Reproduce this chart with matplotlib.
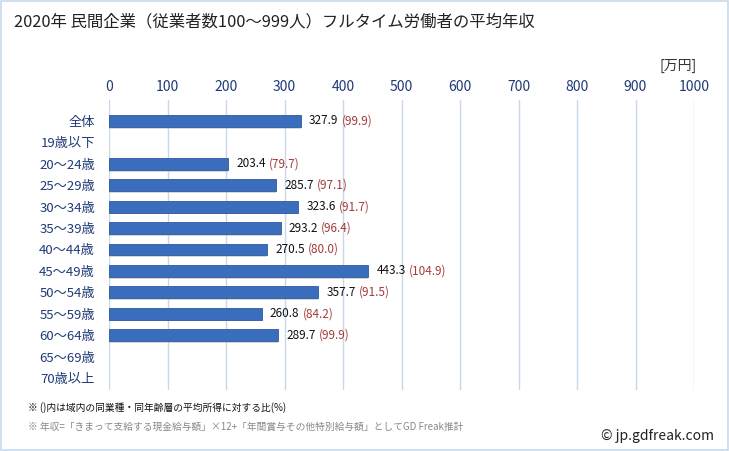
import numpy as np
import matplotlib.pyplot as plt
from matplotlib.patches import Rectangle

plt.rcParams['font.family'] = ['Noto Sans CJK JP', 'DejaVu Sans']

categories = ['全体', '19歳以下', '20～24歳', '25～29歳', '30～34歳', '35～39歳',
              '40～44歳', '45～49歳', '50～54歳', '55～59歳', '60～64歳',
              '65～69歳', '70歳以上']
salary = [327.9, np.nan, 203.4, 285.7, 323.6, 293.2, 270.5, 443.3, 357.7,
          260.8, 289.7, np.nan, np.nan]
ratio = [99.9, np.nan, 79.7, 97.1, 91.7, 96.4, 80.0, 104.9, 91.5, 84.2,
         99.9, np.nan, np.nan]
xticks = list(range(0, 1001, 100))

fig = plt.figure(figsize=(7.29, 4.51), dpi=100)
fig.patches.append(Rectangle((0.002, 0.002), 0.996, 0.996, transform=fig.transFigure,
                             fill=False, edgecolor='#c9d9ec', linewidth=1.2))

ax = fig.add_axes([109 / 729, 1 - 390 / 451, (694 - 109) / 729, 290 / 451])
y = np.arange(len(categories))
sal = np.array(salary)
has = ~np.isnan(sal)

# shadow then bar
ax.barh(y[has] + 0.08, sal[has], height=0.56, color='#b0b0b0', alpha=0.5, zorder=2)
ax.barh(y[has], sal[has], height=0.56, color='#3a6dbb', edgecolor='#2c5a9e',
        linewidth=0.6, zorder=3)

ax.set_xlim(0, 1000)
ax.set_ylim(12.56, -0.98)
ax.set_xticks(xticks)
ax.xaxis.tick_top()
ax.tick_params(axis='x', length=0, labelsize=10, labelcolor='#1f3a78', pad=4)
ax.set_yticks(y)
ax.set_yticklabels(categories)
ax.tick_params(axis='y', length=0, labelsize=9.5, labelcolor='#1f3a78', pad=10)
ax.grid(axis='x', color='#c8d8ea', linewidth=1)
ax.set_axisbelow(True)
for s in ax.spines.values():
    s.set_visible(False)

fig.canvas.draw()
renderer = fig.canvas.get_renderer()
for i, (v, r) in enumerate(zip(salary, ratio)):
    if np.isnan(v):
        continue
    t = ax.annotate(f'{v:.1f}', xy=(v, i), xytext=(6, 0), textcoords='offset points',
                    va='center', ha='left', fontsize=8.5, color='#111111')
    bb = t.get_window_extent(renderer)
    xd = ax.transData.inverted().transform((bb.x1 + 3, 0))[0]
    ax.text(xd, i, f'({r:.1f})', va='center', ha='left', fontsize=8.5, color='#a23a3a')

fig.text(14 / 729, 1 - 22 / 451, '2020年 民間企業（従業者数100～999人）フルタイム労働者の平均年収',
         fontsize=11.8, va='center', ha='left', color='#222222')
fig.text(697 / 729, 1 - 66 / 451, '[万円]', fontsize=10, va='center', ha='right', color='#333333')
fig.text(28 / 729, 1 - 408 / 451, '※ ()内は域内の同業種・同年齢層の平均所得に対する比(%)',
         fontsize=7, va='center', ha='left', color='#111111')
fig.text(28 / 729, 1 - 427 / 451,
         '※ 年収=「きまって支給する現金給与額」×12+「年間賞与その他特別給与額」としてGD Freak推計',
         fontsize=7, va='center', ha='left', color='#888888')
fig.text(714 / 729, 1 - 436 / 451, '© jp.gdfreak.com', fontsize=10, va='center', ha='right',
         color='#222222')

fig.savefig('out.png', dpi=100)
